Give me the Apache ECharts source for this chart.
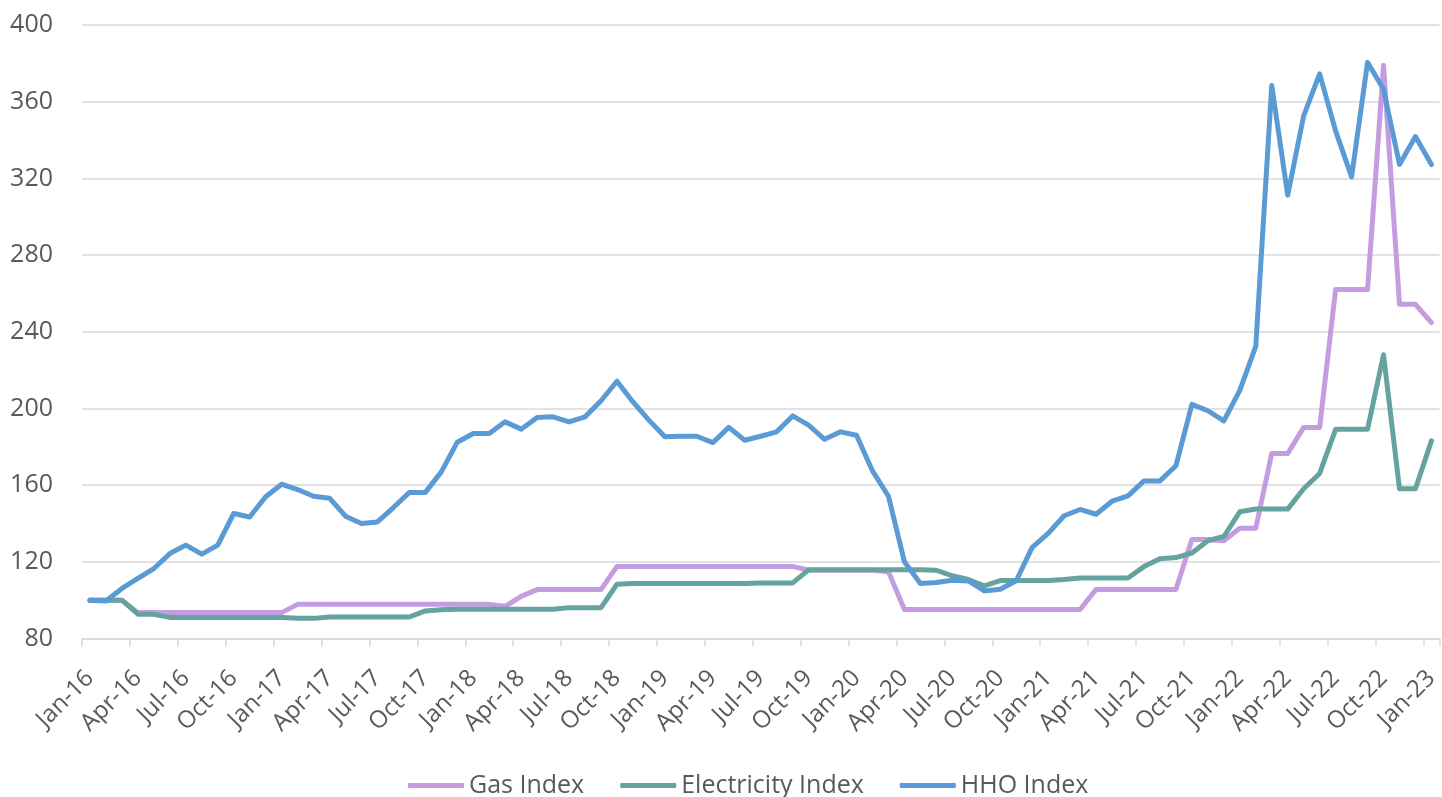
<!DOCTYPE html>
<html>
<head>
<meta charset="utf-8">
<script src="https://cdn.jsdelivr.net/npm/echarts@6/dist/echarts.min.js"></script>
<style>
html,body{margin:0;padding:0;background:#fff;}
#chart{width:1442px;height:797px;}
</style>
</head>
<body>
<div id="chart"></div>
<script>
const categories = [
'Jan-16','Feb-16','Mar-16','Apr-16','May-16','Jun-16','Jul-16','Aug-16','Sep-16','Oct-16','Nov-16','Dec-16',
'Jan-17','Feb-17','Mar-17','Apr-17','May-17','Jun-17','Jul-17','Aug-17','Sep-17','Oct-17','Nov-17','Dec-17',
'Jan-18','Feb-18','Mar-18','Apr-18','May-18','Jun-18','Jul-18','Aug-18','Sep-18','Oct-18','Nov-18','Dec-18',
'Jan-19','Feb-19','Mar-19','Apr-19','May-19','Jun-19','Jul-19','Aug-19','Sep-19','Oct-19','Nov-19','Dec-19',
'Jan-20','Feb-20','Mar-20','Apr-20','May-20','Jun-20','Jul-20','Aug-20','Sep-20','Oct-20','Nov-20','Dec-20',
'Jan-21','Feb-21','Mar-21','Apr-21','May-21','Jun-21','Jul-21','Aug-21','Sep-21','Oct-21','Nov-21','Dec-21',
'Jan-22','Feb-22','Mar-22','Apr-22','May-22','Jun-22','Jul-22','Aug-22','Sep-22','Oct-22','Nov-22','Dec-22',
'Jan-23'
];

const gasIndex = [
100,100,100,
93.5,93.5,93.5,93.5,93.5,93.5,93.5,93.5,93.5,93.5,
97.8,97.8,97.8,97.8,97.8,97.8,97.8,97.8,97.8,97.8,97.8,97.8,97.8,
96.8,102,
105.5,105.5,105.5,105.5,105.5,
117.6,117.6,117.6,117.6,117.6,117.6,117.6,117.6,117.6,117.6,117.6,117.6,
115.6,115.6,115.6,115.6,115.6,114.8,
95.1,95.1,95.1,95.1,95.1,95.1,95.1,95.1,95.1,95.1,95.1,95.1,
105.6,105.6,105.6,105.6,105.6,105.6,
131.6,131.6,131,137.5,137.5,176.5,176.5,190.1,190.1,262,262,262,379,254.3,254.3,244.8
];

const electricityIndex = [
100,100,100,
92.7,92.6,
91,91,91,91,91,91,91,91,
90.5,90.5,
91.2,91.2,91.2,91.2,91.2,91.2,
94.4,95,95.3,
95.3,95.3,95.3,95.3,95.3,95.3,
96.1,96.1,96.1,
108.3,
108.7,108.7,108.7,108.7,108.7,108.7,108.7,108.7,108.9,108.9,109,
115.8,115.8,115.8,115.8,115.8,115.8,115.8,115.8,
115.6,
112.7,110.8,107.5,
110.2,110.2,110.2,110.2,
110.8,111.6,
111.6,111.6,111.6,
117.5,121.6,122.2,124.6,131,133.2,146.1,147.5,147.5,147.5,158.1,166.1,189.1,189.1,189.1,228,158.1,158.1,183.1
];

const hhoIndex = [
100,99.6,106.1,111.3,116.5,124.3,128.7,124,128.7,145.2,143.4,153.9,
160.5,157.7,154.2,153.2,143.8,140,140.8,148.3,156.2,156.2,166.9,182.4,
186.9,186.9,193,189.2,195.3,195.6,193,195.6,204,214.2,203.4,193.9,
185.2,185.5,185.5,182.2,190.1,183.4,185.5,187.8,196.1,191.3,183.9,187.8,
186,167.4,154.2,120,108.7,109.2,110.4,110,104.8,105.7,110.1,127.5,
134.8,144,147.3,144.8,151.6,154.4,162.2,162.2,170.1,202.1,198.8,193.5,
209.4,232.4,368.5,311.2,352.6,374.5,344.8,320.8,380.5,366.5,327.2,341.8,
327.2
];

const yTicks = { min: 80, max: 400, interval: 40 };

const FONT = '"Open Sans", "Noto Sans", sans-serif';
const TXT = '#595959';
const GRIDC = '#d9d9d9';

function lineSeries(name, data, color) {
  return {
    name: name,
    type: 'line',
    data: data,
    symbol: 'none',
    smooth: false,
    lineStyle: { width: 5, color: color, cap: 'round', join: 'round' },
    itemStyle: { color: color },
    emphasis: { disabled: true }
  };
}

const chart = echarts.init(document.getElementById('chart'), null, { renderer: 'canvas' });
chart.setOption({
  animation: false,
  backgroundColor: '#ffffff',
  grid: { left: 82, top: 25, width: 1363, height: 613.5, containLabel: false },
  legend: {
    left: 403,
    top: 768,
    icon: 'roundRect',
    itemWidth: 56,
    itemHeight: 5,
    itemGap: 36,
    textStyle: { fontFamily: FONT, fontSize: 25, color: TXT },
    data: ['Gas Index', 'Electricity Index', 'HHO Index']
  },
  xAxis: {
    type: 'category',
    data: categories,
    boundaryGap: true,
    axisLine: { lineStyle: { color: GRIDC, width: 1.5 } },
    axisTick: { show: true, interval: 2, length: 8, lineStyle: { color: GRIDC, width: 1.5 } },
    axisLabel: {
      interval: 2,
      rotate: 45,
      margin: 36,
      fontFamily: FONT,
      fontSize: 24,
      color: TXT
    },
    splitLine: { show: false }
  },
  yAxis: {
    type: 'value',
    min: yTicks.min,
    max: yTicks.max,
    interval: yTicks.interval,
    axisLine: { show: false },
    axisTick: { show: false },
    axisLabel: { margin: 29, fontFamily: FONT, fontSize: 25, color: TXT },
    splitLine: { lineStyle: { color: GRIDC, width: 1.5 } }
  },
  series: [
    lineSeries('Gas Index', gasIndex, '#c49de0'),
    lineSeries('Electricity Index', electricityIndex, '#64a39f'),
    lineSeries('HHO Index', hhoIndex, '#5b9bd5')
  ]
});
</script>
</body>
</html>
